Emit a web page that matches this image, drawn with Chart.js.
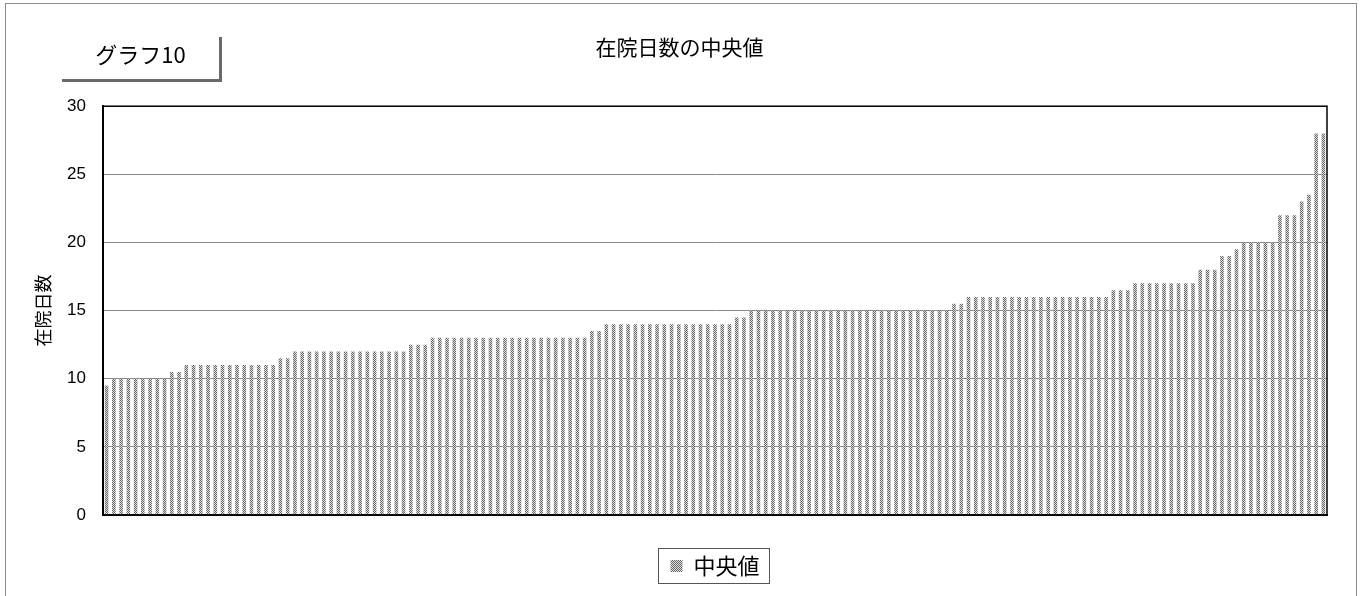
<!DOCTYPE html>
<html lang="ja">
<head>
<meta charset="utf-8">
<title>在院日数の中央値</title>
<script src="https://cdn.jsdelivr.net/npm/chart.js@4.4.1/dist/chart.umd.min.js"></script>
<style>
  html, body { margin: 0; padding: 0; background: #fff; }
  #wrap { position: relative; width: 1360px; height: 596px; overflow: hidden; }
  #frame {
    position: absolute; left: 5px; top: 3px; width: 1352px; height: 640px;
    border: 1px solid #8c8c8c; box-sizing: border-box;
  }
  #tag {
    position: absolute; left: 62px; top: 37px; width: 160px; height: 45px;
    box-sizing: border-box; border-right: 3px solid #6a6a6a; border-bottom: 3px solid #6a6a6a;
    font: 22px "Noto Sans CJK JP", sans-serif; text-align: center; line-height: 33px; color: #000;
  }
  canvas { position: absolute; left: 0; top: 0; }
</style>
</head>
<body>
<div id="wrap">
  <div id="frame"></div>
  <canvas id="chart" width="1360" height="596"></canvas>
  <div id="tag">グラフ10</div>
</div>
<script>
  // 病院ごとの在院日数の中央値（昇順）
  const medianDays = [
    9.5,
    10, 10, 10, 10, 10, 10, 10, 10,
    10.5, 10.5,
    11, 11, 11, 11, 11, 11, 11, 11, 11, 11, 11, 11, 11,
    11.5, 11.5,
    12, 12, 12, 12, 12, 12, 12, 12, 12, 12, 12, 12, 12, 12, 12, 12,
    12.5, 12.5, 12.5,
    13, 13, 13, 13, 13, 13, 13, 13, 13, 13, 13, 13, 13, 13, 13, 13, 13, 13, 13, 13, 13, 13,
    13.5, 13.5,
    14, 14, 14, 14, 14, 14, 14, 14, 14, 14, 14, 14, 14, 14, 14, 14, 14, 14,
    14.5, 14.5,
    15, 15, 15, 15, 15, 15, 15, 15, 15, 15, 15, 15, 15, 15,
    15, 15, 15, 15, 15, 15, 15, 15, 15, 15, 15, 15, 15, 15,
    15.5, 15.5,
    16, 16, 16, 16, 16, 16, 16, 16, 16, 16, 16, 16, 16, 16, 16, 16, 16, 16, 16, 16,
    16.5, 16.5, 16.5,
    17, 17, 17, 17, 17, 17, 17, 17, 17,
    18, 18, 18,
    19, 19,
    19.5,
    20, 20, 20, 20, 20,
    22, 22, 22,
    23,
    23.5,
    28, 28
  ];
  const hospitals = medianDays.map((_, i) => String(i + 1));
  const yTicks = [0, 5, 10, 15, 20, 25, 30];

  const canvas = document.getElementById("chart");
  const ctx = canvas.getContext("2d");

  // 網掛け風のパターン
  function makeHatch() {
    const c = document.createElement("canvas");
    c.width = 2;
    c.height = 2;
    const g = c.getContext("2d");
    g.fillStyle = "#dedede";
    g.fillRect(0, 0, 2, 2);
    g.fillStyle = "#666666";
    g.fillRect(0, 0, 1, 1);
    g.fillRect(1, 1, 1, 1);
    return ctx.createPattern(c, "repeat");
  }
  const hatch = makeHatch();

  // 描画領域の枠と凡例の枠
  const frameBoxes = {
    id: "frameBoxes",
    afterDraw(chart) {
      const a = chart.chartArea;
      const c = chart.ctx;
      c.save();
      c.strokeStyle = "#000";
      c.lineWidth = 1.5;
      c.strokeRect(a.left, a.top, a.right - a.left, a.bottom - a.top);
      const hit = chart.legend && chart.legend.legendHitBoxes[0];
      if (hit) {
        c.lineWidth = 1;
        c.strokeStyle = "#555";
        c.strokeRect(Math.round(hit.left - 12) + 0.5, Math.round(hit.top - 7) + 0.5,
          Math.round(hit.width + 22), Math.round(hit.height + 13));
      }
      c.restore();
    }
  };

  Chart.defaults.font.family = '"Liberation Sans", "Noto Sans CJK JP", sans-serif';
  Chart.defaults.color = "#000";

  new Chart(ctx, {
    type: "bar",
    data: {
      labels: hospitals,
      datasets: [
        {
          label: "中央値",
          data: medianDays,
          backgroundColor: hatch,
          borderWidth: 0,
          barPercentage: 0.5,
          categoryPercentage: 1.0
        }
      ]
    },
    options: {
      responsive: false,
      devicePixelRatio: 1,
      animation: false,
      layout: { padding: { left: 32, right: 33, top: 0, bottom: 9 } },
      plugins: {
        title: {
          display: true,
          text: "在院日数の中央値",
          font: { size: 21, family: '"Noto Sans CJK JP", sans-serif', weight: "normal" },
          color: "#000",
          padding: { top: 34, bottom: 47 }
        },
        legend: {
          position: "bottom",
          fullSize: false,
          labels: {
            boxWidth: 12,
            boxHeight: 12,
            padding: 10,
            font: { size: 22, family: '"Noto Sans CJK JP", sans-serif' },
            color: "#000"
          }
        },
        tooltip: { enabled: false }
      },
      scales: {
        x: {
          ticks: { display: false },
          grid: { display: false, drawTicks: false },
          border: { display: true, color: "#000", width: 2 },
          afterFit: (scale) => { scale.height = 30; }
        },
        y: {
          min: 0,
          max: 30,
          afterBuildTicks: (scale) => { scale.ticks = yTicks.map((v) => ({ value: v })); },
          ticks: { padding: 17, font: { size: 17 }, color: "#000" },
          grid: { color: "#8a8a8a", lineWidth: 1, drawTicks: false },
          border: { display: true, color: "#000", width: 2 },
          title: {
            display: true,
            text: "在院日数",
            font: { size: 18, family: '"Noto Sans CJK JP", sans-serif' },
            color: "#000",
            padding: { top: 0, bottom: -4 }
          },
          afterFit: (scale) => { scale.width = 71; }
        }
      }
    },
    plugins: [frameBoxes]
  });
</script>
</body>
</html>
